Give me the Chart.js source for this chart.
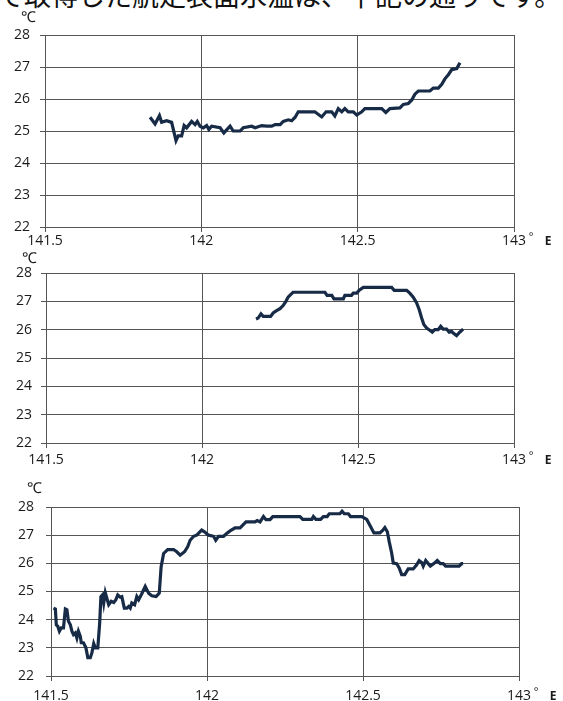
<!DOCTYPE html>
<html>
<head>
<meta charset="utf-8">
<script src="https://cdn.jsdelivr.net/npm/chart.js@4"></script>
<style>
  html, body { margin: 0; padding: 0; background: #fff; }
  body { width: 563px; height: 701px; position: relative; overflow: hidden; }
  .cut { position: absolute; left: -3px; top: -19px; font: 27px/27px 'Noto Sans CJK JP', sans-serif; color: #111; white-space: nowrap; }
  canvas { position: absolute; left: 0; }
</style>
</head>
<body>
<div class="cut">で取得した航走表面水温は、下記の通りです。</div>
<canvas id="c1" width="563" height="250" style="top:0"></canvas>
<canvas id="c2" width="563" height="220" style="top:250px"></canvas>
<canvas id="c3" width="563" height="231" style="top:470px"></canvas>
<script>
// longitude (°E) and surface water temperature (℃)
const lon1 = [141.836, 141.852, 141.866, 141.873, 141.889, 141.905, 141.919, 141.926, 141.937, 141.945,
  141.953, 141.969, 141.980, 141.987, 141.996, 142.006, 142.017, 142.024, 142.033, 142.060,
  142.072, 142.092, 142.102, 142.124, 142.134, 142.161, 142.172, 142.193, 142.209, 142.225,
  142.236, 142.252, 142.262, 142.278, 142.289, 142.300, 142.310, 142.363, 142.385, 142.399,
  142.417, 142.427, 142.438, 142.449, 142.459, 142.470, 142.486, 142.497, 142.513, 142.523,
  142.577, 142.590, 142.603, 142.635, 142.646, 142.662, 142.673, 142.683, 142.694, 142.731,
  142.742, 142.758, 142.769, 142.779, 142.790, 142.801, 142.817, 142.827];
const temp1 = [25.43, 25.22, 25.48, 25.27, 25.32, 25.27, 24.70, 24.85, 24.85, 25.17,
  25.10, 25.30, 25.20, 25.30, 25.15, 25.10, 25.17, 25.05, 25.15, 25.10,
  24.94, 25.15, 25.00, 25.00, 25.10, 25.15, 25.10, 25.17, 25.15, 25.15,
  25.20, 25.20, 25.30, 25.35, 25.32, 25.43, 25.60, 25.60, 25.44, 25.60,
  25.60, 25.47, 25.70, 25.60, 25.70, 25.60, 25.60, 25.50, 25.60, 25.70,
  25.70, 25.58, 25.70, 25.72, 25.83, 25.86, 25.97, 26.15, 26.25, 26.25,
  26.34, 26.34, 26.46, 26.63, 26.76, 26.92, 26.95, 27.13];

const lon2 = [142.173, 142.180, 142.189, 142.196, 142.220, 142.228, 142.239, 142.250, 142.260, 142.269,
  142.276, 142.284, 142.292, 142.394, 142.401, 142.416, 142.423, 142.453, 142.458, 142.479,
  142.485, 142.496, 142.504, 142.517, 142.608, 142.616, 142.656, 142.666, 142.677, 142.688,
  142.696, 142.704, 142.711, 142.720, 142.730, 142.738, 142.746, 142.757, 142.765, 142.773,
  142.784, 142.792, 142.800, 142.805, 142.816, 142.826, 142.837];
const temp2 = [26.38, 26.41, 26.56, 26.47, 26.47, 26.59, 26.67, 26.74, 26.85, 27.00,
  27.15, 27.24, 27.32, 27.32, 27.21, 27.21, 27.09, 27.09, 27.21, 27.21,
  27.29, 27.29, 27.39, 27.49, 27.49, 27.39, 27.39, 27.29, 27.15, 26.94,
  26.71, 26.41, 26.18, 26.06, 25.98, 25.91, 26.00, 26.00, 26.12, 26.02,
  26.02, 25.91, 25.94, 25.88, 25.79, 25.91, 26.02];

const lon3 = [141.508, 141.514, 141.517, 141.522, 141.527, 141.533, 141.540, 141.546, 141.551, 141.556,
  141.562, 141.567, 141.572, 141.578, 141.583, 141.588, 141.594, 141.597, 141.604, 141.612,
  141.618, 141.626, 141.631, 141.637, 141.642, 141.650, 141.656, 141.660, 141.665, 141.669,
  141.674, 141.679, 141.685, 141.693, 141.701, 141.708, 141.714, 141.722, 141.727, 141.735,
  141.743, 141.749, 141.754, 141.759, 141.768, 141.775, 141.781, 141.791, 141.802, 141.813,
  141.823, 141.837, 141.847, 141.853, 141.861, 141.874, 141.893, 141.903, 141.914, 141.928,
  141.938, 141.946, 141.957, 141.967, 141.983, 141.992, 142.005, 142.021, 142.028, 142.037,
  142.053, 142.063, 142.074, 142.090, 142.106, 142.125, 142.154, 142.161, 142.170, 142.181,
  142.189, 142.202, 142.211, 142.298, 142.307, 142.336, 142.341, 142.349, 142.364, 142.373,
  142.385, 142.392, 142.426, 142.433, 142.440, 142.453, 142.460, 142.496, 142.512, 142.522,
  142.535, 142.554, 142.563, 142.570, 142.578, 142.584, 142.592, 142.597, 142.608, 142.616,
  142.624, 142.634, 142.645, 142.661, 142.672, 142.680, 142.688, 142.693, 142.701, 142.709,
  142.716, 142.727, 142.738, 142.748, 142.757, 142.765, 142.808, 142.816, 142.821];
const temp3 = [24.41, 24.38, 23.82, 23.76, 23.59, 23.71, 23.71, 24.38, 24.35, 23.94,
  23.82, 23.59, 23.47, 23.53, 23.35, 23.59, 23.41, 23.18, 23.18, 23.00,
  22.65, 22.65, 22.82, 23.15, 23.00, 23.00, 23.88, 24.82, 24.88, 24.59,
  24.96, 24.76, 24.53, 24.65, 24.61, 24.71, 24.88, 24.80, 24.82, 24.41,
  24.41, 24.47, 24.41, 24.59, 24.53, 24.82, 24.71, 24.92, 25.18, 24.94,
  24.85, 24.82, 24.94, 25.88, 26.35, 26.49, 26.49, 26.41, 26.29, 26.41,
  26.59, 26.82, 26.96, 27.00, 27.18, 27.12, 27.00, 26.96, 26.82, 26.96,
  26.96, 27.06, 27.15, 27.26, 27.26, 27.47, 27.47, 27.52, 27.47, 27.66,
  27.55, 27.55, 27.66, 27.66, 27.56, 27.56, 27.66, 27.56, 27.56, 27.66,
  27.66, 27.76, 27.76, 27.85, 27.76, 27.76, 27.66, 27.66, 27.56, 27.35,
  27.08, 27.08, 27.17, 27.27, 27.12, 26.77, 26.36, 26.01, 25.99, 25.84,
  25.60, 25.60, 25.80, 25.80, 25.95, 26.10, 26.03, 25.90, 26.10, 25.99,
  25.90, 25.99, 26.10, 25.99, 25.99, 25.90, 25.90, 25.99, 25.99];

const xTicks = [141.5, 142, 142.5, 143];
const yTicks = [22, 23, 24, 25, 26, 27, 28];

const lineColor = '#172b47';
const gridColor = '#555';
const tickFont = { family: "'Open Sans', sans-serif", size: 14 };

// ℃ over the y axis and "° E" after the last x label
const extraLabels = {
  id: 'extraLabels',
  afterDraw(chart, args, opts) {
    const c = chart.ctx;
    const x = chart.scales.x.getPixelForValue(143);
    const y = chart.chartArea.bottom + opts.labelGap;
    c.save();
    c.fillStyle = '#1a1a1a';
    c.textAlign = 'center';
    c.textBaseline = 'middle';
    c.font = "15px 'Liberation Serif', serif";
    c.fillText('℃', opts.unitX, opts.unitY);
    c.font = "11px 'Open Sans', sans-serif";
    c.fillText('°', x + 17, y - 4);
    c.font = "bold 12px 'Open Sans', sans-serif";
    c.fillText('E', x + 34, y + 1);
    c.restore();
  }
};

function makeChart(id, lon, temp, box) {
  const points = lon.map((v, i) => ({ x: v, y: temp[i] }));
  return new Chart(document.getElementById(id), {
    type: 'line',
    data: {
      datasets: [{
        data: points,
        borderColor: lineColor,
        borderWidth: 3.2,
        pointRadius: 0,
        tension: 0,
        fill: false
      }]
    },
    options: {
      responsive: false,
      animation: false,
      events: [],
      layout: { padding: { top: box.top, right: box.right, left: 0, bottom: 0 } },
      plugins: {
        legend: { display: false },
        tooltip: { enabled: false },
        extraLabels: { unitX: box.unitX, unitY: box.unitY, labelGap: box.xGap + 13 }
      },
      scales: {
        x: {
          type: 'linear',
          min: 141.5,
          max: 143,
          afterBuildTicks: s => { s.ticks = xTicks.map(v => ({ value: v })); },
          afterFit: s => { s.height = box.xHeight; },
          grid: { color: gridColor, lineWidth: 1, tickLength: 5 },
          border: { color: gridColor },
          ticks: { font: tickFont, color: '#1a1a1a', padding: box.xGap, maxRotation: 0, callback: v => String(v) }
        },
        y: {
          min: 22,
          max: 28,
          afterBuildTicks: s => { s.ticks = yTicks.map(v => ({ value: v })); },
          afterFit: s => { s.width = box.yWidth; },
          grid: { color: gridColor, lineWidth: 1, tickLength: 5 },
          border: { color: gridColor },
          ticks: { font: tickFont, color: '#1a1a1a', padding: box.yGap }
        }
      }
    },
    plugins: [extraLabels]
  });
}

makeChart('c1', lon1, temp1, { top: 35, right: 49, yWidth: 45, xHeight: 23, yGap: 10, xGap: 1, unitX: 28, unitY: 18 });
makeChart('c2', lon2, temp2, { top: 23, right: 49, yWidth: 46, xHeight: 27, yGap: 9, xGap: 4, unitX: 29, unitY: 9 });
makeChart('c3', lon3, temp3, { top: 37, right: 44, yWidth: 51, xHeight: 25, yGap: 12, xGap: 7, unitX: 34, unitY: 19 });
</script>
</body>
</html>
